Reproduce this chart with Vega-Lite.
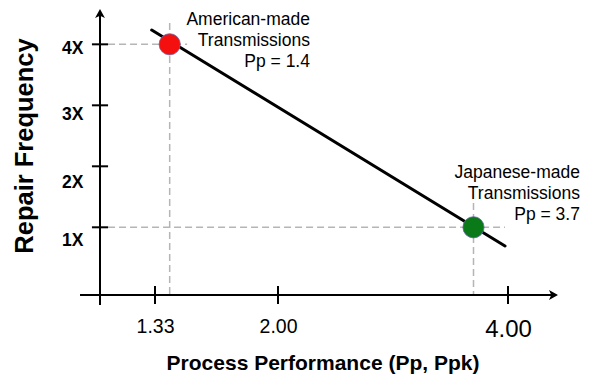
{
  "$schema": "https://vega.github.io/schema/vega-lite/v6.json",
  "width": 458,
  "height": 283,
  "autosize": {"type": "none"},
  "padding": {"left": 100, "top": 12, "right": 31, "bottom": 83},
  "background": "white",
  "config": {"view": {"stroke": null}, "font": "Liberation Sans"},
  "encoding": {
    "x": {
      "field": "x", "type": "quantitative",
      "scale": {"domain": [1.03, 1.33, 2, 4, 4.435], "range": [0, 55, 178, 408, 458], "nice": false, "zero": false},
      "axis": {
        "values": [1.33, 2, 4], "format": ".2f", "domain": false, "ticks": false, "tickSize": 0, "grid": false,
        "labelPadding": 22, "labelColor": "black", "labelFont": "Liberation Sans",
        "labelFontSize": {"condition": {"test": "datum.value === 4", "value": 24}, "value": 19.5},
        "title": "Process Performance (Pp, Ppk)", "titleFont": "Liberation Sans", "titleFontSize": 21, "titleFontWeight": "bold",
        "titleColor": "black", "titleX": 222.5, "titleY": 68.5, "titleAlign": "center", "titleBaseline": "middle"
      }
    },
    "y": {
      "field": "y", "type": "quantitative",
      "scale": {"domain": [-0.11, 4.53], "nice": false, "zero": false},
      "axis": {
        "values": [1, 2, 3, 4], "labelExpr": "datum.value + 'X'", "domain": false, "ticks": false, "tickSize": 0, "grid": false,
        "labelPadding": 17, "labelColor": "black", "labelFont": "Liberation Sans", "labelFontSize": 17.5, "labelFontWeight": "bold",
        "labelOffset": {"condition": [{"test": "datum.value === 4", "value": 4}, {"test": "datum.value === 3", "value": 9}, {"test": "datum.value === 2", "value": 16}], "value": 13},
        "title": "Repair Frequency", "titleFont": "Liberation Sans", "titleFontSize": 25.5, "titleFontWeight": "bold",
        "titleColor": "black", "titleAngle": 270, "titleX": -75.8, "titleY": 133.5, "titleAlign": "center", "titleBaseline": "middle"
      }
    }
  },
  "layer": [
    {
      "data": {"values": [
        {"x": 1.074, "x2": 1.505, "y": 4, "y2": 4},
        {"x": 1.41, "x2": 1.41, "y": 4.35, "y2": -0.11},
        {"x": 1.074, "x2": 3.974, "y": 1, "y2": 1},
        {"x": 3.7, "x2": 3.7, "y": 1.4, "y2": -0.11}
      ]},
      "mark": {"type": "rule", "color": "#b5b5b5", "strokeWidth": 1.5, "strokeDash": [7, 4]},
      "encoding": {"x2": {"field": "x2"}, "y2": {"field": "y2"}}
    },
    {
      "data": {"values": [
        {"x": 0.921, "x2": 4.383, "y": -0.11, "y2": -0.11},
        {"x": 1.03, "x2": 1.03, "y": -0.274, "y2": 4.48},
        {"x": 0.986, "x2": 1.074, "y": 1, "y2": 1},
        {"x": 0.986, "x2": 1.074, "y": 2, "y2": 2},
        {"x": 0.986, "x2": 1.074, "y": 3, "y2": 3},
        {"x": 0.986, "x2": 1.074, "y": 4, "y2": 4},
        {"x": 1.33, "x2": 1.33, "y": 0.038, "y2": -0.257},
        {"x": 2, "x2": 2, "y": 0.038, "y2": -0.257},
        {"x": 4, "x2": 4, "y": 0.038, "y2": -0.257}
      ]},
      "mark": {"type": "rule", "color": "black", "strokeWidth": 2},
      "encoding": {"x2": {"field": "x2"}, "y2": {"field": "y2"}}
    },
    {
      "data": {"values": [
        {"x": 4.435, "y": -0.11, "dir": "right"},
        {"x": 1.03, "y": 4.58, "dir": "up"}
      ]},
      "mark": {"type": "point", "filled": true, "color": "black", "opacity": 1, "size": 324},
      "encoding": {
        "shape": {"field": "dir", "type": "nominal", "legend": null,
          "scale": {"domain": ["right", "up"], "range": ["M0,0L-1,-0.55L-0.75,0L-1,0.55Z", "M0,0L-0.55,1L0,0.75L0.55,1Z"]}}
      }
    },
    {
      "data": {"values": [
        {"x": 1.312, "y": 4.234, "x2": 3.974, "y2": 0.693}
      ]},
      "mark": {"type": "rule", "color": "black", "strokeWidth": 3, "strokeCap": "round"},
      "encoding": {"x2": {"field": "x2"}, "y2": {"field": "y2"}}
    },
    {
      "data": {"values": [
        {"x": 1.41, "y": 4, "origin": "American-made"},
        {"x": 3.7, "y": 1, "origin": "Japanese-made"}
      ]},
      "mark": {"type": "point", "filled": true, "opacity": 1, "size": 450, "stroke": "#6a6aa8", "strokeWidth": 0.8},
      "encoding": {
        "fill": {"field": "origin", "type": "nominal", "legend": null,
          "scale": {"domain": ["American-made", "Japanese-made"], "range": ["#f51010", "#0a7a18"]}}
      }
    },
    {
      "data": {"values": [
        {"x": 2.278, "y": 4.398, "label": "American-made\nTransmissions\nPp = 1.4"},
        {"x": 4.626, "y": 1.885, "label": "Japanese-made\nTransmissions\nPp = 3.7"}
      ]},
      "mark": {"type": "text", "align": "right", "baseline": "middle", "lineBreak": "\n", "lineHeight": 21, "fontSize": 17.5, "font": "Liberation Sans", "color": "black"},
      "encoding": {"text": {"field": "label"}}
    }
  ]
}
